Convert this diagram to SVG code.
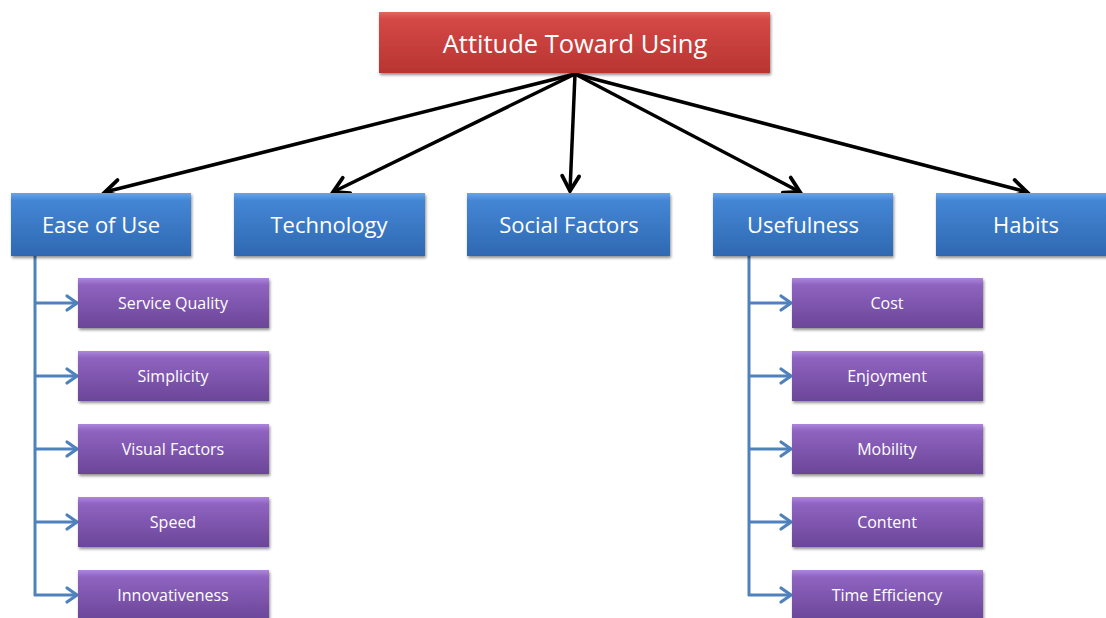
<svg xmlns="http://www.w3.org/2000/svg" width="1106" height="618" viewBox="0 0 1106 618">
<defs>
<linearGradient id="gRed" x1="0" y1="0" x2="0" y2="1">
<stop offset="0" stop-color="#e66563"/><stop offset="0.12" stop-color="#d44845"/><stop offset="1" stop-color="#b83532"/>
</linearGradient>
<linearGradient id="gBlue" x1="0" y1="0" x2="0" y2="1">
<stop offset="0" stop-color="#6aa3e6"/><stop offset="0.12" stop-color="#4486d4"/><stop offset="1" stop-color="#2f68b2"/>
</linearGradient>
<linearGradient id="gPurple" x1="0" y1="0" x2="0" y2="1">
<stop offset="0" stop-color="#ad86dc"/><stop offset="0.14" stop-color="#8f63c0"/><stop offset="1" stop-color="#6a4698"/>
</linearGradient>
<filter id="sh" x="-10%" y="-20%" width="120%" height="150%">
<feGaussianBlur in="SourceAlpha" stdDeviation="1.5"/><feOffset dx="1" dy="2"/>
<feComponentTransfer><feFuncA type="linear" slope="0.45"/></feComponentTransfer>
<feMerge><feMergeNode/><feMergeNode in="SourceGraphic"/></feMerge>
</filter>
<marker id="ab" viewBox="0 0 22 22" refX="18" refY="11" markerWidth="22" markerHeight="22" markerUnits="userSpaceOnUse" orient="auto">
<path d="M3,2.5 L18,11 L3,19.5" fill="none" stroke="#000" stroke-width="3.8" stroke-linecap="round" stroke-linejoin="miter"/>
</marker>
<marker id="abl" viewBox="0 0 16 20" refX="13" refY="10" markerWidth="16" markerHeight="20" markerUnits="userSpaceOnUse" orient="auto">
<path d="M3,3 L13,10 L3,17" fill="none" stroke="#4f81bd" stroke-width="3.2" stroke-linecap="round"/>
</marker>
</defs>
<style>
.t{font-family:"Open Sans","Liberation Sans",sans-serif;fill:#fff;text-anchor:middle;dominant-baseline:central}
.big{font-size:25.5px}.mid{font-size:22px}.sm{font-size:16px}
.bk{stroke:#000;stroke-width:3.5;fill:none;marker-end:url(#ab)}
.bl{stroke:#4f81bd;stroke-width:3;fill:none}
.bla{stroke:#4f81bd;stroke-width:3;fill:none;marker-end:url(#abl)}
</style>
<g id="connectors">
<path class="bk" d="M575,74 L105,192"/>
<path class="bk" d="M575,74 L333,192"/>
<path class="bk" d="M575,74 L570,191"/>
<path class="bk" d="M575,74 L800,192"/>
<path class="bk" d="M575,74 L1027,192"/>
<path class="bl" d="M35,256 L35,596"/>
<path class="bla" d="M35,303 L77,303"/>
<path class="bla" d="M35,376 L77,376"/>
<path class="bla" d="M35,449 L77,449"/>
<path class="bla" d="M35,522 L77,522"/>
<path class="bla" d="M34,595 L77,595"/>
<path class="bl" d="M749,256 L749,596"/>
<path class="bla" d="M749,303 L791,303"/>
<path class="bla" d="M749,376 L791,376"/>
<path class="bla" d="M749,449 L791,449"/>
<path class="bla" d="M749,522 L791,522"/>
<path class="bla" d="M748,595 L791,595"/>
</g>
<g id="attitude"><rect x="379" y="12" width="391" height="61" fill="url(#gRed)" filter="url(#sh)"/><text class="t big" x="575" y="43">Attitude Toward Using</text></g>
<g id="ease"><rect x="11" y="193" width="180" height="63" fill="url(#gBlue)" filter="url(#sh)"/><text class="t mid" x="101" y="224">Ease of Use</text></g>
<g id="technology"><rect x="234" y="193" width="191" height="63" fill="url(#gBlue)" filter="url(#sh)"/><text class="t mid" x="329" y="224">Technology</text></g>
<g id="social"><rect x="467" y="193" width="203" height="63" fill="url(#gBlue)" filter="url(#sh)"/><text class="t mid" x="569" y="224">Social Factors</text></g>
<g id="usefulness"><rect x="713" y="193" width="180" height="63" fill="url(#gBlue)" filter="url(#sh)"/><text class="t mid" x="803" y="224">Usefulness</text></g>
<g id="habits"><rect x="936" y="193" width="172" height="63" fill="url(#gBlue)" filter="url(#sh)"/><text class="t mid" x="1026" y="224">Habits</text></g>
<g id="service"><rect x="78" y="278" width="191" height="50" fill="url(#gPurple)" filter="url(#sh)"/><text class="t sm" x="173" y="303">Service Quality</text></g>
<g id="simplicity"><rect x="78" y="351" width="191" height="50" fill="url(#gPurple)" filter="url(#sh)"/><text class="t sm" x="173" y="376">Simplicity</text></g>
<g id="visual"><rect x="78" y="424" width="191" height="50" fill="url(#gPurple)" filter="url(#sh)"/><text class="t sm" x="173" y="449">Visual Factors</text></g>
<g id="speed"><rect x="78" y="497" width="191" height="50" fill="url(#gPurple)" filter="url(#sh)"/><text class="t sm" x="173" y="522">Speed</text></g>
<g id="innov"><rect x="78" y="570" width="191" height="50" fill="url(#gPurple)" filter="url(#sh)"/><text class="t sm" x="173" y="595">Innovativeness</text></g>
<g id="cost"><rect x="792" y="278" width="191" height="50" fill="url(#gPurple)" filter="url(#sh)"/><text class="t sm" x="887" y="303">Cost</text></g>
<g id="enjoyment"><rect x="792" y="351" width="191" height="50" fill="url(#gPurple)" filter="url(#sh)"/><text class="t sm" x="887" y="376">Enjoyment</text></g>
<g id="mobility"><rect x="792" y="424" width="191" height="50" fill="url(#gPurple)" filter="url(#sh)"/><text class="t sm" x="887" y="449">Mobility</text></g>
<g id="content"><rect x="792" y="497" width="191" height="50" fill="url(#gPurple)" filter="url(#sh)"/><text class="t sm" x="887" y="522">Content</text></g>
<g id="time"><rect x="792" y="570" width="191" height="50" fill="url(#gPurple)" filter="url(#sh)"/><text class="t sm" x="887" y="595">Time Efficiency</text></g>
</svg>
